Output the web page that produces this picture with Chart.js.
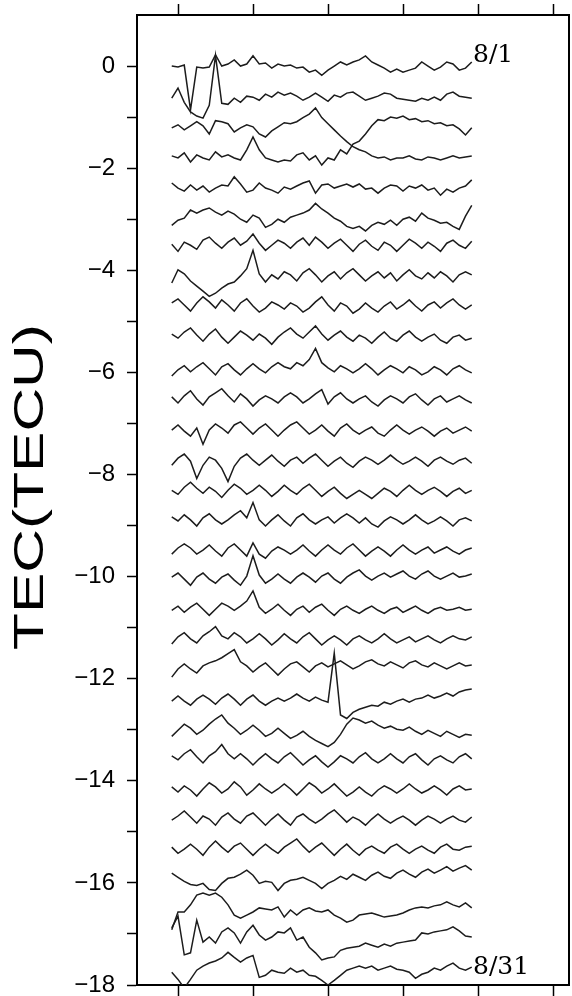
<!DOCTYPE html>
<html>
<head>
<meta charset="utf-8">
<script src="https://cdn.jsdelivr.net/npm/chart.js@4.4.1/dist/chart.umd.min.js"></script>
<style>
html,body{margin:0;padding:0;background:#fff;}
#wrap{position:absolute;left:0;top:0;width:572px;height:996px;}
</style>
</head>
<body>
<div id="wrap"><canvas id="c"></canvas></div>
<script>
// x positions of the samples (hours)
const hours = [-0.5,0,0.5,1,1.5,2,2.5,3,3.5,4,4.5,5,5.5,6,6.5,7,7.5,8,8.5,9,9.5,10,10.5,11,11.5,12,12.5,13,13.5,14,14.5,15,15.5,16,16.5,17,17.5,18,18.5,19,19.5,20,20.5,21,21.5,22,22.5,23,23.5];
const dayLabels = ['8/1','8/2','8/3','8/4','8/5','8/6','8/7','8/8','8/9','8/10','8/11','8/12','8/13','8/14','8/15','8/16','8/17','8/18','8/19','8/20','8/21','8/22','8/23','8/24','8/25','8/26','8/27','8/28','8/29','8/30','8/31'];
// vertical offset of each day's trace (TECU)
const dayOffsets = [0,-0.59,-1.21,-1.78,-2.37,-2.98,-3.53,-4.11,-4.70,-5.33,-5.95,-6.54,-7.15,-7.74,-8.33,-8.91,-9.50,-10.07,-10.66,-11.24,-11.83,-12.46,-13.03,-13.59,-14.18,-14.77,-15.36,-15.95,-16.53,-17.08,-17.71];
const yTickLabels = [0,-2,-4,-6,-8,-10,-12,-14,-16,-18];

// TEC anomaly of each day (TECU)
const aug01 = [0,-0.02,0.02,-0.86,-0.02,-0.04,-0.02,0.22,0,0.04, 0.12,0,0.04,0.2,0.04,0.06,-0.04,0.04,0,0.02, -0.04,-0.02,-0.12,-0.08,-0.18,-0.08,0,0.08,0.02,0.08, 0.12,0.2,0.08,0.02,-0.04,-0.12,-0.06,-0.12,-0.08,-0.04, 0.08,0,-0.08,-0.02,0.08,0.04,-0.08,-0.04,0.08];
const aug02 = [-0.04,0.16,-0.12,-0.31,-0.39,-0.43,-0.18,0.8,-0.14,-0.16, -0.04,-0.12,0,-0.02,-0.08,0.04,-0.02,0.08,0.02,0.06, 0,-0.08,-0.02,0.06,-0.02,-0.1,0.02,-0.02,0.06,0.08, 0,-0.08,-0.04,0,0.06,0.04,-0.04,-0.06,-0.08,-0.1, -0.04,-0.08,-0.02,-0.08,0.04,0.08,0,-0.02,-0.04];
const aug03 = [0,0.06,-0.04,0.04,0.12,0.04,-0.12,0.14,0.12,0.08, -0.08,0,0.06,0.02,-0.12,-0.18,-0.06,0.02,0.1,0.08, 0.12,0.2,0.27,0.39,0.2,0.08,-0.04,-0.16,-0.27,-0.37, -0.43,-0.47,-0.55,-0.59,-0.57,-0.63,-0.59,-0.59,-0.55,-0.61, -0.63,-0.57,-0.59,-0.63,-0.59,-0.55,-0.59,-0.57,-0.55];
const aug04 = [0.02,-0.02,0.08,-0.1,0.04,-0.02,-0.06,0.1,0,0.04, -0.02,-0.06,0.14,0.39,0.14,-0.02,-0.06,-0.1,-0.06,-0.08, 0.04,0.08,-0.06,0.02,-0.16,-0.02,-0.06,0.14,0.06,0.25, 0.31,0.45,0.61,0.73,0.71,0.78,0.76,0.8,0.73,0.75, 0.69,0.71,0.65,0.67,0.61,0.63,0.55,0.43,0.57];
const aug05 = [0.08,-0.02,-0.08,0.04,-0.06,0.02,-0.1,-0.02,0.04,0.02, 0.2,0.06,-0.1,-0.06,0.08,-0.02,-0.06,-0.12,0,-0.04, 0.02,0.08,0.12,-0.12,0.04,0.06,-0.02,0.02,0.06,0, 0.06,-0.04,-0.02,-0.12,-0.02,0.04,0.02,-0.08,0.02,-0.02, 0.04,-0.06,-0.02,-0.16,-0.04,-0.1,-0.02,0.02,0.14];
const aug06 = [-0.14,-0.04,0,0.16,0.1,0.16,0.2,0.12,0.06,0.14, 0.08,-0.02,-0.08,0.06,0,-0.18,-0.12,-0.02,-0.08,0.02, 0.06,0.1,0.16,0.29,0.18,0.1,0,-0.06,-0.16,-0.2, -0.16,-0.25,-0.14,-0.08,-0.12,-0.04,-0.14,-0.02,0.02,-0.06, 0.1,0,-0.04,-0.1,-0.08,-0.16,-0.22,0.04,0.25];
const aug07 = [0.04,-0.1,0.08,0.02,-0.06,0.12,0.18,0.06,-0.04,0.08, 0.16,0.02,0.1,0.24,0.06,-0.08,0.02,0.12,0.06,-0.04, 0.08,0.16,0.02,0.18,0.08,-0.04,0.06,0.14,0.02,-0.1, 0.04,0.12,0,-0.08,0.08,0.02,-0.1,0.02,0.14,0.06, -0.04,0.08,0,-0.1,0.06,0.12,0.02,-0.04,0.1];
const aug08 = [-0.14,0.12,0.04,-0.1,-0.2,-0.3,-0.4,-0.34,-0.24,-0.16, -0.12,0,0.14,0.5,0.04,-0.12,0.02,-0.06,0.08,0.02, -0.1,0.06,0.14,0.02,-0.12,0,0.08,-0.06,0.06,0.14, 0.02,-0.1,0,0.08,-0.04,0.06,-0.1,0.02,0.12,0, -0.06,0.06,-0.04,0.08,0,-0.12,0.02,0.08,0.02];
const aug09 = [0.06,0.14,0.02,-0.1,0.06,0.18,0.08,-0.04,0.12,0.02, -0.1,0.06,0.14,0,-0.12,-0.04,0.08,0.02,-0.06,0.06, 0,-0.12,-0.04,0.08,0.18,0.02,-0.1,0.06,0,-0.14, -0.06,0.06,-0.04,-0.12,0,0.08,-0.06,0.02,0.12,0, -0.1,0.02,0.08,-0.04,0.06,0.14,0.02,-0.06,0.02];
const aug10 = [0.08,0,0.12,0.2,0.06,-0.06,0.08,0.18,0.02,-0.1, 0.02,0.14,0.06,-0.04,0.08,0,-0.12,0.02,0.12,0.2, 0.08,0,0.12,0.24,0.08,-0.04,0.06,0.14,0.02,-0.06, 0.06,0,-0.1,0.02,0.12,0,-0.06,0.06,0.14,0.02, -0.06,0.02,0.08,-0.04,-0.1,0.02,0.06,-0.04,0];
const aug11 = [-0.12,0,0.08,-0.04,0.06,0.14,0.02,-0.1,0.06,0.12, 0,-0.1,0.02,0.12,0.02,-0.06,0.06,0.14,0.06,0.02, 0.14,0.08,0.2,0.42,0.14,0.04,-0.04,0.08,0.02,-0.06, 0.02,0.12,0.02,-0.1,0,0.08,0.02,-0.06,0.06,0, -0.1,-0.04,0.06,0,-0.1,0.02,0.08,0,-0.06];
const aug12 = [0.06,-0.06,0.08,0.18,0.02,-0.1,0.06,0.14,0.22,0.08, -0.04,0.12,0.02,-0.12,0,0.08,0.02,-0.06,0.06,0.14, 0.06,-0.06,0.02,0.12,0.2,-0.08,0.06,0.14,0.02,-0.06, 0.02,0.08,-0.04,-0.12,0,0.08,0.02,-0.06,0.06,0.12, 0,-0.1,0.02,0.08,-0.04,0.02,0.08,0,-0.06];
const aug13 = [0.02,0.12,0,-0.1,0.06,-0.26,0.02,0.14,0.06,-0.04, 0.12,0.18,0.06,-0.06,0.06,0.14,0.02,-0.1,0.02,0.12, 0.18,0.06,-0.06,0.02,0.12,0,-0.1,0.06,0.14,0.02, -0.06,0.02,0.08,-0.04,-0.1,0.02,0.12,0.02,-0.06,0.02, 0.08,0,-0.1,0,0.06,-0.04,0.02,0.08,0];
const aug14 = [-0.08,0.06,0.14,0,-0.34,-0.08,0.08,0.02,-0.14,-0.4, -0.1,0.06,0.14,0.02,-0.08,0.02,0.12,0,-0.1,0.02, 0.08,-0.04,0.06,0.14,0.02,-0.1,0,0.08,-0.04,-0.12, 0,0.08,0.02,-0.06,0.02,0.12,0.02,-0.06,0,0.08, 0,-0.1,0.02,0.08,0,-0.06,0.02,0.06,-0.04];
const aug15 = [0.02,-0.06,0.08,0.18,0.06,-0.04,0.08,0,-0.12,0.02, 0.14,0.06,-0.06,0.02,0.12,0.02,-0.1,0,0.12,0.02, -0.06,0.06,0.14,0.02,-0.1,0,0.08,-0.04,-0.14,-0.06, 0.02,-0.06,-0.14,-0.04,0.06,0,-0.1,0.02,0.12,0.02, -0.06,0.02,0.08,0,-0.1,0,0.06,-0.04,0.02];
const aug16 = [0.08,0,0.12,0.02,-0.1,0.06,0.14,0.02,-0.06,0.02, 0.12,0.2,0.06,0.36,0.02,-0.1,0.02,0.12,0,-0.1, 0.06,0.14,0.02,-0.06,0.02,0.08,-0.04,0.06,0.14,0.06, -0.04,0.06,-0.06,-0.12,0,0.08,0.02,-0.06,0.02,0.12, 0.02,-0.06,0,0.08,0,-0.1,0.02,0.06,0];
const aug17 = [-0.06,0.06,0.14,0.06,-0.06,0.02,0.12,0,-0.1,0.06, 0.14,0.02,-0.1,0.16,-0.06,-0.14,0,0.08,0.02,-0.06, 0.02,0.12,0,-0.1,0.02,0.12,0.02,-0.06,0.06,0.14, 0.02,-0.1,0,0.08,0,-0.1,0.02,0.12,0.02,-0.06, 0.02,0.08,-0.04,0.02,0.08,0,-0.06,0.02,0.06];
const aug18 = [0.06,0.14,0.02,-0.1,0.06,0.14,0.02,-0.06,0.06,0.12, 0,-0.1,0.08,0.48,0.1,-0.06,0.02,0.12,0.02,-0.06, 0.06,0.14,0.06,-0.04,0.08,0.14,0.02,-0.06,0.06,0.14, 0.2,0.08,0,0.08,0.14,0.06,0.12,0.18,0.08,0.02, 0.12,0.18,0.08,0.02,0.08,0.14,0.06,0.08,0.12];
const aug19 = [0,0.08,-0.04,0.06,0.14,0.02,-0.1,0.02,0.14,0.08, 0,0.08,0.18,0.38,0.06,-0.06,0.02,0.12,0,-0.1, 0.02,0.08,-0.04,0.06,0.12,0,-0.1,0.02,0.08,0, -0.06,0.02,0.08,0,-0.06,0.02,0.06,-0.04,0.02,0.08, 0,-0.06,0.02,0.06,0,0.02,0.06,0,0.02];
const aug20 = [-0.08,0.06,0.14,0.02,-0.06,0.08,0.16,0.26,0.08,0.02, 0.14,0.06,-0.06,0.02,0.12,0.02,-0.1,0,0.12,0.02, -0.06,0.06,0.14,0.02,-0.1,0,0.08,0,-0.1,0.02, 0.08,0,-0.06,0.02,0.12,0.02,-0.06,0,0.06,-0.04, 0.02,0.08,0,-0.06,0.02,0.08,0.02,0,0.06];
const aug21 = [-0.14,0.02,0.12,0.02,-0.06,0.08,0.14,0.18,0.24,0.32, 0.4,0.16,0.08,-0.04,0.06,0.14,0.02,-0.1,0.02,0.12, 0.16,0.06,-0.04,0.08,0.14,0.06,0.12,0.18,0.1,0.02, 0.08,0.16,0.2,0.12,0.08,0.16,0.1,0.04,0.14,0.18, 0.1,0.06,0.14,0.08,0.02,0.08,0.14,0.08,0.1];
const aug22 = [0.02,0.12,0.02,-0.06,0.06,0.14,0.06,-0.04,0.08,0.16, 0.06,-0.06,0.06,0.14,0.02,-0.06,0.02,0.08,0.02,0.08, 0.16,0.08,0.02,0.1,0.04,0,0.96,-0.25,-0.32,-0.2, -0.14,-0.1,-0.06,-0.08,0,-0.04,0.02,0.06,0,0.06, 0.08,0.14,0.08,0.12,0.18,0.12,0.2,0.24,0.26];
const aug23 = [-0.1,0.02,0.14,0.06,-0.06,0.02,0.14,0.24,0.32,0.16, 0.06,-0.06,0.02,0.12,0.02,-0.1,-0.04,0.06,-0.04,-0.14, -0.08,0,-0.1,-0.18,-0.24,-0.3,-0.22,-0.06,0.14,0.26, 0.22,0.16,0.2,0.12,0.06,0.1,0.04,0.02,0.08,0, -0.06,0.02,-0.04,-0.1,0,-0.06,-0.12,-0.06,-0.08];
const aug24 = [0.08,0,0.12,0.2,0.06,-0.06,0.08,0.16,0.3,0.12, 0.02,0.12,0.02,-0.1,0.02,0.12,0.02,-0.06,0.06,0.14, 0.02,-0.1,0,0.08,-0.04,-0.14,-0.04,0.08,0.02,-0.06, 0.06,0.14,0.02,-0.06,0.02,0.12,0.02,-0.06,0.06,0.12, 0,-0.1,0.02,0.08,0,-0.06,0.06,0.12,0.02];
const aug25 = [0.06,-0.04,0.08,0,-0.12,0.02,0.14,0.06,-0.06,0.02, 0.16,0.06,-0.1,0,0.12,0.02,-0.06,0.02,0.12,0.02, -0.1,0.02,0.14,0.06,-0.06,0.02,0.12,0,-0.12,-0.04, 0.06,-0.04,-0.12,0,0.08,0.02,-0.06,0.02,0.12,0.02, -0.06,0,0.08,0,-0.1,0.02,0.08,0,0.02];
const aug26 = [0,0.08,0.18,0.06,-0.06,0.08,0.02,-0.1,0.06,0.14, 0.02,-0.06,0.08,0.14,0.02,-0.1,0.02,0.12,0,-0.1, 0.06,0.12,0.02,-0.06,0.02,0.12,0.2,0.08,-0.04,0.06, 0,-0.1,0.02,0.12,0.02,-0.06,0.02,0.08,0,-0.1, 0,0.08,0.02,-0.06,0.02,0.08,0,-0.04,0.06];
const aug27 = [0.06,-0.06,0.02,0.12,0.02,-0.1,0.06,0.18,0.06,-0.04, 0.08,0.14,0.02,-0.1,0.02,0.12,0.02,-0.06,0.06,0.14, 0.22,0.08,-0.04,0.06,0.14,0.02,-0.1,0.02,0.12,0, -0.1,0.02,0.08,0,-0.06,0.06,0.12,0.02,-0.06,0.02, 0.08,0,-0.06,0.06,0.12,0.02,0,0.06,0.08];
const aug28 = [0.14,0.06,-0.02,-0.08,-0.1,-0.06,-0.18,-0.2,-0.06,0.04, 0.06,0.12,0.2,0.1,-0.06,-0.02,-0.04,-0.2,-0.06,0, 0.02,0.06,0,-0.06,-0.16,-0.06,0,0.08,0.02,0.12, 0.06,0,0.1,0.16,0.08,0.04,0.14,0.2,0.12,0.06, 0.16,0.22,0.14,0.2,0.27,0.18,0.24,0.29,0.2];
const aug29 = [-0.39,-0.04,-0.04,0.1,0.29,0.33,0.29,0.33,0.25,0.1, -0.1,-0.16,-0.1,-0.04,0.04,0.02,0,0.06,-0.14,0, -0.1,0,0.04,-0.02,-0.04,0,-0.1,-0.16,-0.24,-0.2, -0.1,-0.08,-0.06,-0.1,-0.14,-0.12,-0.1,-0.06,0,0.04, 0.06,0.04,0.08,0.1,0.16,0.1,0.06,0.14,0.04];
const aug30 = [0.2,0.43,-0.33,-0.29,0.35,-0.08,0.02,-0.1,0.12,0.2, 0.1,-0.1,0.12,0.25,0.06,-0.04,0.02,0.12,0.1,0.2, -0.04,0.02,-0.18,-0.29,-0.43,-0.39,-0.37,-0.24,-0.2,-0.18, -0.16,-0.1,-0.14,-0.18,-0.12,-0.16,-0.1,-0.08,-0.06,-0.04, 0.1,0.08,0.12,0.14,0.16,0.22,0.14,0.04,0.02];
const aug31 = [-0.04,-0.18,-0.35,-0.18,0,0.08,0.14,0.18,0.24,0.35, 0.25,0.16,0.24,0.29,-0.14,-0.1,0,-0.04,-0.06,0.04, -0.04,0,-0.1,-0.12,-0.2,-0.29,-0.2,-0.1,0,0.04, 0.08,0.04,0.08,0,0.04,0.08,0.02,0,-0.04,-0.16, -0.08,-0.04,0.04,0,0.08,0.14,0.04,0,0.06];

const days = [aug01,aug02,aug03,aug04,aug05,aug06,aug07,aug08,aug09,aug10,aug11,aug12,aug13,aug14,aug15,aug16,aug17,aug18,aug19,aug20,aug21,aug22,aug23,aug24,aug25,aug26,aug27,aug28,aug29,aug30,aug31];

const datasets = days.map((vals, i) => ({
  label: dayLabels[i],
  data: vals.map((v, k) => ({x: hours[k], y: dayOffsets[i] + v})),
  borderColor: '#1c1c1c',
  borderWidth: 1.5,
  pointRadius: 0,
  tension: 0,
  fill: false
}));

const fitW = w => function(s){ s.width = w; s.paddingTop = 0; s.paddingBottom = 0; };
const fitH = h => function(s){ s.height = h; s.paddingLeft = 0; s.paddingRight = 0; };
const majorY = v => yTickLabels.indexOf(v) >= 0;

const decor = {
  id: 'decor',
  afterDraw(chart) {
    const ctx = chart.ctx, xs = chart.scales.x, ys = chart.scales.y;
    ctx.save();
    // y-axis title (stretched along its length like the original)
    ctx.fillStyle = '#000';
    ctx.font = '42px "Liberation Sans", Arial, sans-serif';
    ctx.textAlign = 'center';
    ctx.textBaseline = 'alphabetic';
    ctx.translate(43, 487);
    ctx.rotate(-Math.PI / 2);
    ctx.scale(1.44, 1);
    ctx.fillText('TEC(TECU)', 0, 0);
    ctx.restore();
    // day annotations
    ctx.save();
    ctx.fillStyle = '#000';
    ctx.font = '25px "DejaVu Serif", serif';
    ctx.textAlign = 'left';
    ctx.textBaseline = 'alphabetic';
    ctx.fillText(dayLabels[0], xs.getPixelForValue(23.6), ys.getPixelForValue(0.08));
    ctx.fillText(dayLabels[30], xs.getPixelForValue(23.6), ys.getPixelForValue(-17.79));
    ctx.restore();
  }
};

const xCommon = (pos, h) => ({
  type: 'linear', position: pos, min: -3.28, max: 31.28,
  ticks: {stepSize: 6, includeBounds: false, display: false},
  grid: {drawOnChartArea: false, drawTicks: true, tickLength: 11, tickColor: '#000', tickWidth: 1.5},
  border: {display: true, color: '#000', width: 2},
  afterFit: fitH(h)
});

new Chart(document.getElementById('c'), {
  type: 'line',
  data: {datasets},
  options: {
    responsive: true, maintainAspectRatio: false, animation: false, devicePixelRatio: 1,
    layout: {padding: 0},
    plugins: {legend: {display: false}, tooltip: {enabled: false}},
    scales: {
      x: xCommon('bottom', 11),
      x2: xCommon('top', 15),
      y: {
        type: 'linear', position: 'left', min: -18, max: 1,
        ticks: {
          stepSize: 1, autoSkip: false, padding: 12, color: '#000',
          font: {family: '"Liberation Sans", Arial, sans-serif', size: 24},
          callback: v => majorY(v) ? (v < 0 ? '\u2212' + Math.abs(v) : String(v)) : ''
        },
        grid: {
          drawOnChartArea: false, drawTicks: true, tickLength: 10, tickWidth: 1.5,
          tickColor: c => (c.tick && c.tick.value > 0) ? 'rgba(0,0,0,0)' : '#000'
        },
        border: {display: true, color: '#000', width: 2},
        afterFit: fitW(137)
      },
      y2: {
        type: 'linear', position: 'right', min: -18, max: 1,
        ticks: {display: false},
        grid: {drawOnChartArea: false, drawTicks: false},
        border: {display: true, color: '#000', width: 2},
        afterFit: fitW(3)
      }
    }
  },
  plugins: [decor]
});
</script>
</body>
</html>
